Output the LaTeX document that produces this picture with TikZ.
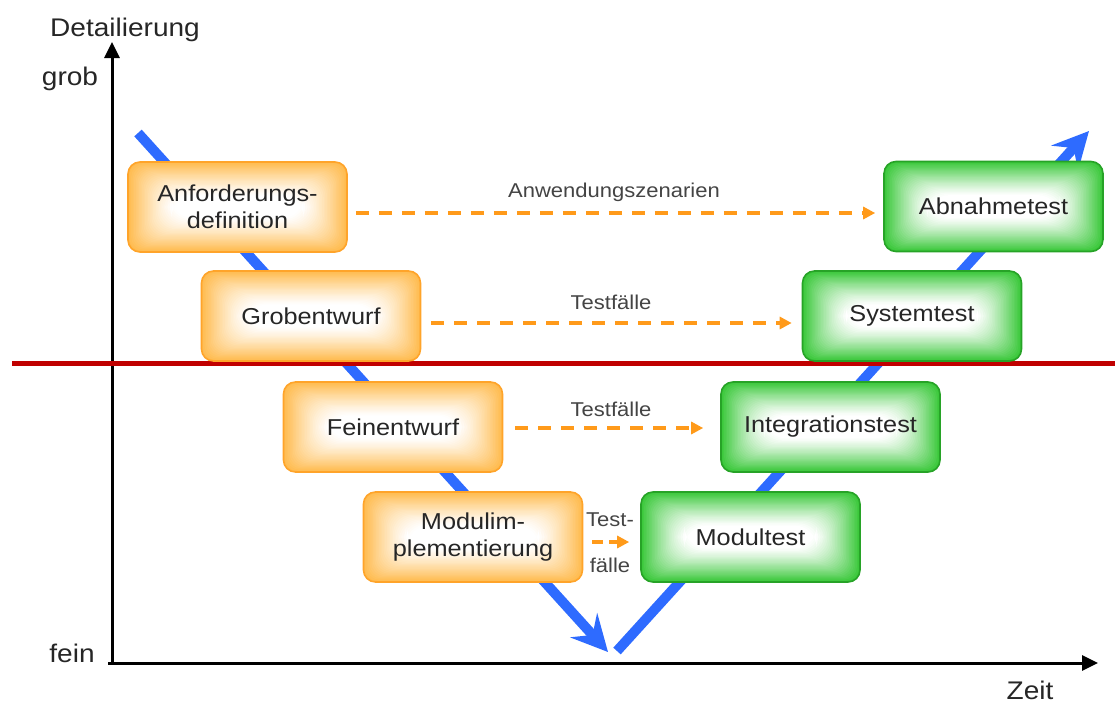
\documentclass[tikz,border=0pt]{standalone}
\usepackage{fontspec}
\setmainfont{Liberation Sans}[FakeStretch=1.1]
\usetikzlibrary{arrows.meta}
\definecolor{orfill}{HTML}{FFBB4E}
\definecolor{orline}{HTML}{FFA42A}
\definecolor{grfill}{HTML}{3AC83A}
\definecolor{grline}{HTML}{27A327}
\definecolor{vblue}{HTML}{2E6BFF}
\definecolor{dashor}{HTML}{FF9A1A}
\definecolor{redline}{HTML}{C00000}
\definecolor{lbl}{HTML}{444444}
\tikzset{
  glow/.style={path picture={
    \foreach \i in {0,...,28} {
      \pgfmathsetmacro\p{100*(1-\i/28)^1.2}
      \pgfmathsetmacro\rc{12+\i*0.35}
      \fill[#1!\p!white, rounded corners=\rc pt]
        ([xshift=\i*1.55pt,yshift=-\i*1.2pt]path picture bounding box.north west) rectangle
        ([xshift=-\i*1.55pt,yshift=\i*1.2pt]path picture bounding box.south east);
    }}},
  phase/.style={draw=#1line, line width=1.6pt, glow=#1fill, rounded corners=12pt,
    minimum width=219pt, minimum height=90pt, align=center, inner sep=0pt,
    font=\fontsize{23}{27}\selectfont, text=black!85},
  lefts/.style={phase=or},
  rights/.style={phase=gr},
  flow/.style={draw=dashor, line width=3.5pt, dash pattern=on 13pt off 10pt,
    -{Triangle[length=12pt,width=12pt]}},
  flowlbl/.style={text=lbl, font=\fontsize{20}{22}\selectfont, inner sep=0pt},
  vline/.style={draw=vblue, line width=10pt, -{Stealth[length=36pt,width=36pt,inset=13pt]}},
  axis/.style={draw=black, line width=3pt, -{Triangle[length=16pt,width=15pt]}},
  axlbl/.style={font=\fontsize{25.5}{28}\selectfont, text=black!85, inner sep=0pt}
}
\begin{document}
\begin{tikzpicture}[x=1pt,y=-1pt]
\useasboundingbox (0,0) rectangle (1115,704);

% V shape
\coordinate (vs) at (138,133);
\coordinate (vb1) at (608,652);
\coordinate (vb2) at (617,651);
\coordinate (ve) at (1089,131);
\draw[vline] (vs) -- (vb1);
\draw[vline] (vb2) -- (ve);

% axes
\coordinate (o) at (112,663);
\coordinate (ytop) at (112,42);
\coordinate (xend) at (1098,663);
\draw[axis] (o) -- (ytop);
\draw[axis] (108,663) -- (xend);
\node[axlbl] (detail) at (125,30) {Detailierung};
\node[axlbl] (grob) at (70,79) {grob};
\node[axlbl] (fein) at (72,653) {fein};
\node[axlbl] (zeit) at (1030,690) {Zeit};

% red line
\coordinate (r1) at (12,363);
\coordinate (r2) at (1115,363);
\draw[redline, line width=5pt] (r1) -- (r2);

% boxes
\node[lefts] (anf) at (237.5,207) {Anforderungs-\\definition};
\node[lefts] (grb) at (311,316) {Grobentwurf};
\node[lefts] (fen) at (393,427) {Feinentwurf};
\node[lefts] (mod) at (473,537) {Modulim-\\plementierung};
\node[rights] (abn) at (993.5,206.5) {Abnahmetest};
\node[rights] (sys) at (912,316) {Systemtest};
\node[rights] (int) at (830.5,427) {Integrationstest};
\node[rights] (mdt) at (750.5,537) {Modultest};

% flows
\draw[flow] ([xshift=8pt,yshift=-6pt]anf.east) -- ([xshift=-8pt,yshift=-6pt]anf.east -| abn.west);
\node[flowlbl] (l1) at (614,192) {Anwendungszenarien};
\draw[flow] ([xshift=10pt,yshift=-7pt]grb.east) -- ([xshift=-10pt,yshift=-7pt]grb.east -| sys.west);
\node[flowlbl] (l2) at (611,302) {Testfälle};
\draw[flow] ([xshift=12pt,yshift=-1pt]fen.east) -- ([xshift=-17pt,yshift=-1pt]fen.east -| int.west);
\node[flowlbl] (l3) at (611,409) {Testfälle};
\draw[flow, dash pattern=on 11pt off 6pt] ([xshift=9pt,yshift=-5pt]mod.east) -- ([xshift=-11pt,yshift=-5pt]mod.east -| mdt.west);
\node[flowlbl] (l4a) at (610,520) {Test-};
\node[flowlbl] (l4b) at (610,565) {fälle};
\end{tikzpicture}
\end{document}
